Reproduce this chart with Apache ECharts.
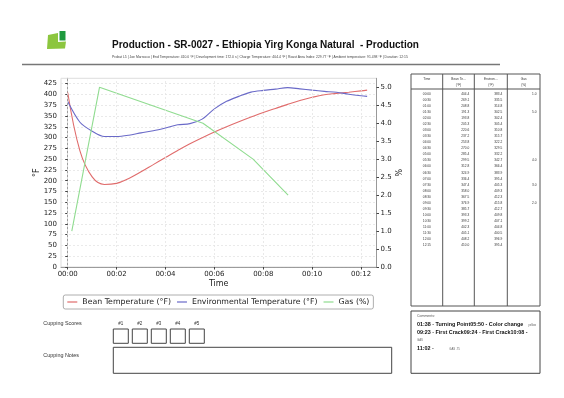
<!DOCTYPE html>
<html>
<head>
<meta charset="utf-8">
<script src="https://cdn.jsdelivr.net/npm/echarts@6/dist/echarts.min.js"></script>
<style>
  html, body { margin: 0; padding: 0; background: #fff; }
  #page { width: 564px; height: 398px; }
</style>
</head>
<body>
<div id="page"></div>
<script>
// roast log, one row every 30 s (last row is 12:15)
var timeLabels = ['00:00', '00:30', '01:00', '01:30', '02:00', '02:30', '03:00', '03:30', '04:00',
  '04:30', '05:00', '05:30', '06:00', '06:30', '07:00', '07:30', '08:00', '08:30', '09:00',
  '09:30', '10:00', '10:30', '11:00', '11:30', '12:00', '12:15'];
var timeSec = [0, 30, 60, 90, 120, 150, 180, 210, 240, 270, 300, 330, 360, 390, 420, 450, 480,
  510, 540, 570, 600, 630, 660, 690, 720, 735];
var beanTemp = [404.4, 269.1, 208.8, 191.3, 193.8, 205.3, 220.6, 237.2, 253.8, 270.0, 285.4, 299.5,
  312.8, 324.9, 336.4, 347.4, 358.0, 367.5, 376.9, 385.7, 393.3, 399.2, 402.3, 405.1, 408.2, 410.0];
var envTemp = [383.4, 335.5, 314.8, 302.5, 302.4, 305.4, 310.8, 315.7, 322.2, 329.5, 332.2, 342.7,
  366.4, 383.9, 395.4, 405.3, 409.3, 412.3, 415.8, 412.7, 409.8, 407.1, 404.8, 400.5, 396.9, 395.4];

// gas setting changes
var gasSec = [10, 78, 332, 455, 541];
var gasPct = [1.0, 5.0, 4.0, 3.0, 2.0];
// gas column of the table (row index -> text)
var gasCells = { 0: '1.0', 3: '5.0', 11: '4.0', 15: '3.0', 18: '2.0' };

var xTicks = [0, 120, 240, 360, 480, 600, 720];
var tableHead = [['Time', ''], ['Bean Te...', '(°F)'], ['Environ...', '(°F)'], ['Gas', '(%)']];
var scoreLabels = ['#1', '#2', '#3', '#4', '#5'];

var titleText = 'Production - SR-0027 - Ethiopia Yirg Konga Natural  - Production';
var infoText = 'Probat L5 | Joe Marrocco | End Temperature: 410.0 °F | Development time: 172.0 s | ' +
  'Charge Temperature: 404.4 °F | Roast Area Index: 229.77 °F | Ambient temperature: 91.498 °F | Duration: 12:15';

var PAGE_FONT = 'Liberation Sans, Arial, sans-serif';
var CHART_FONT = 'DejaVu Sans';

function txt(x, y, s, size, opts) {
  opts = opts || {};
  return {
    type: 'text', silent: true,
    style: {
      x: x, y: y, text: s,
      font: (opts.bold ? 'bold ' : '') + size + 'px ' + PAGE_FONT,
      fill: opts.color || '#222',
      align: opts.align || 'left',
      verticalAlign: 'middle'
    }
  };
}
function box(x, y, w, h, color) {
  return { type: 'rect', silent: true, shape: { x: x, y: y, width: w, height: h },
    style: { fill: null, stroke: color || '#444', lineWidth: 1 } };
}
function vline(x, y1, y2) {
  return { type: 'line', silent: true, shape: { x1: x, y1: y1, x2: x, y2: y2 },
    style: { stroke: '#555', lineWidth: 1 } };
}

var g = [];
// logo
g.push({ type: 'polygon', silent: true,
  shape: { points: [[48, 35], [58, 33], [58, 42], [66, 41.5], [65, 48.5], [47, 49]] },
  style: { fill: '#8cc63f' } });
g.push({ type: 'rect', silent: true, shape: { x: 59.5, y: 31, width: 6, height: 9.5 },
  style: { fill: '#1f9a3e' } });
// header
g.push(txt(112, 45, titleText, 10, { bold: true, color: '#111' }));
g.push(txt(112, 57.3, infoText, 3.4, { color: '#444' }));
g.push({ type: 'line', silent: true, shape: { x1: 22, y1: 64.5, x2: 500, y2: 64.5 },
  style: { stroke: '#777', lineWidth: 1.3 } });

// table
var tL = 411, tR = 540, tT = 74, tB = 306;
var colX = [tL, 442.7, 474.3, 507.3, tR];
g.push(box(tL, tT, tR - tL, tB - tT, '#555'));
for (var c = 1; c < 4; c++) g.push(vline(colX[c], tT, tB));
g.push({ type: 'line', silent: true, shape: { x1: tL, y1: 89, x2: tR, y2: 89 },
  style: { stroke: '#555', lineWidth: 1 } });
tableHead.forEach(function (h, i) {
  var cx = (colX[i] + colX[i + 1]) / 2;
  g.push(txt(cx, 79.3, h[0], 3.2, { align: 'center', color: '#333' }));
  if (h[1]) g.push(txt(cx, 85, h[1], 3.2, { align: 'center', color: '#333' }));
});
timeLabels.forEach(function (t, i) {
  var y = 94 + i * 6.05;
  g.push(txt((colX[0] + colX[1]) / 2, y, t, 3.2, { align: 'center', color: '#333' }));
  g.push(txt(colX[2] - 5, y, beanTemp[i].toFixed(1), 3.2, { align: 'right', color: '#333' }));
  g.push(txt(colX[3] - 5, y, envTemp[i].toFixed(1), 3.2, { align: 'right', color: '#333' }));
  if (gasCells[i]) g.push(txt(tR - 3.5, y, gasCells[i], 3.2, { align: 'right', color: '#333' }));
});

// comments
g.push(box(411, 311, 129, 62.3, '#444'));
g.push(txt(417, 315.7, 'Comments:', 3.5, { color: '#555' }));
g.push(txt(417, 325, '01:38 - Turning Point05:50 - Color change', 5.4, { bold: true, color: '#111' }));
g.push(txt(528.3, 325.3, 'yellow', 2.8, { color: '#666' }));
g.push(txt(417, 332.7, '09:23 - First Crack09:24 - First Crack10:08 -', 5.4, { bold: true, color: '#111' }));
g.push(txt(417, 340.7, 'GAS', 2.8, { color: '#666' }));
g.push(txt(417, 348.7, '11:02 -', 5.4, { bold: true, color: '#111' }));
g.push(txt(449.3, 349, 'GAS .75', 2.8, { color: '#666' }));

// cupping
g.push(txt(43.3, 323.3, 'Cupping Scores', 5.4, { color: '#333' }));
scoreLabels.forEach(function (s, i) {
  var x = 113.3 + i * 19;
  g.push(txt(x + 7.5, 323.3, s, 4.5, { align: 'center', color: '#333' }));
  g.push(box(x, 329, 15, 14.3, '#444'));
});
g.push(txt(43.3, 356, 'Cupping Notes', 5.4, { color: '#333' }));
g.push(box(113.3, 347.3, 278.4, 26, '#444'));

var beanData = timeSec.map(function (t, i) { return [t, beanTemp[i]]; });
var envData = timeSec.map(function (t, i) { return [t, envTemp[i]]; });
var gasData = gasSec.map(function (t, i) { return [t, gasPct[i]]; });

function mmLabel(v) {
  var m = Math.round(v / 60);
  return '00:' + (m < 10 ? '0' + m : m);
}

var option = {
  animation: false,
  backgroundColor: '#fff',
  textStyle: { fontFamily: CHART_FONT },
  grid: {
    left: 61, right: 187.5, top: 78.3, bottom: 131,
    show: true, borderColor: '#d4d4d4', borderWidth: 0.8
  },
  legend: {
    left: 63.3, top: 295,
    icon: 'rect', itemWidth: 10, itemHeight: 1.2, itemGap: 6,
    padding: [3, 4],
    borderColor: '#999', borderWidth: 0.8, borderRadius: 2,
    textStyle: { fontFamily: CHART_FONT, fontSize: 7.8, color: '#222' },
    data: ['Bean Temperature (°F)', 'Environmental Temperature (°F)', 'Gas (%)']
  },
  xAxis: {
    type: 'value', min: -16.5, max: 758,
    name: 'Time', nameLocation: 'middle', nameGap: 12.5,
    nameTextStyle: { fontFamily: CHART_FONT, fontSize: 8, color: '#222' },
    axisLine: { lineStyle: { color: '#888', width: 0.8 } },
    axisTick: { customValues: xTicks, length: 2.5, lineStyle: { color: '#444' } },
    axisLabel: { customValues: xTicks, margin: 3.5, fontSize: 7, color: '#222', formatter: mmLabel },
    splitLine: { show: false }
  },
  yAxis: [{
    type: 'value', min: 0, max: 437.3, interval: 25,
    name: '°F', nameLocation: 'middle', nameGap: 20, nameMoveOverlap: false,
    nameTextStyle: { fontFamily: CHART_FONT, fontSize: 8, color: '#222' },
    axisLine: { show: true, lineStyle: { color: '#888', width: 0.8 } },
    axisTick: { show: true, length: 2.5, lineStyle: { color: '#444' } },
    axisLabel: { margin: 4, fontSize: 7, color: '#222', showMaxLabel: false },
    splitLine: { lineStyle: { color: '#e4e4e4', type: [2, 2], width: 0.8 } }
  }, {
    type: 'value', min: 0, max: 5.25, interval: 0.5, position: 'right',
    name: '%', nameLocation: 'middle', nameGap: 19, nameMoveOverlap: false,
    nameTextStyle: { fontFamily: CHART_FONT, fontSize: 8, color: '#222' },
    axisLine: { show: true, lineStyle: { color: '#888', width: 0.8 } },
    axisTick: { show: true, length: 2.5, lineStyle: { color: '#444' } },
    axisLabel: { margin: 4, fontSize: 7, color: '#222', showMaxLabel: false,
      formatter: function (v) { return v.toFixed(1); } },
    splitLine: { show: false }
  }],
  series: [{
    name: 'Bean Temperature (°F)', type: 'line', data: beanData,
    showSymbol: false, smooth: 0.4,
    lineStyle: { color: '#e06c6c', width: 1.1 }, itemStyle: { color: '#e06c6c' },
    markLine: {
      silent: true, symbol: 'none', animation: false,
      label: { show: false },
      lineStyle: { color: '#e4e4e4', type: [2, 2], width: 0.8 },
      data: xTicks.map(function (v) { return { xAxis: v }; })
    },
    z: 3
  }, {
    name: 'Environmental Temperature (°F)', type: 'line', data: envData,
    showSymbol: false, smooth: 0.3,
    lineStyle: { color: '#6a6ac8', width: 1.1 }, itemStyle: { color: '#6a6ac8' },
    z: 3
  }, {
    name: 'Gas (%)', type: 'line', yAxisIndex: 1, data: gasData,
    showSymbol: false,
    lineStyle: { color: '#90dc90', width: 1.1 }, itemStyle: { color: '#90dc90' },
    z: 3
  }],
  graphic: { elements: g }
};

var chart = echarts.init(document.getElementById('page'));
chart.setOption(option);
</script>
</body>
</html>
